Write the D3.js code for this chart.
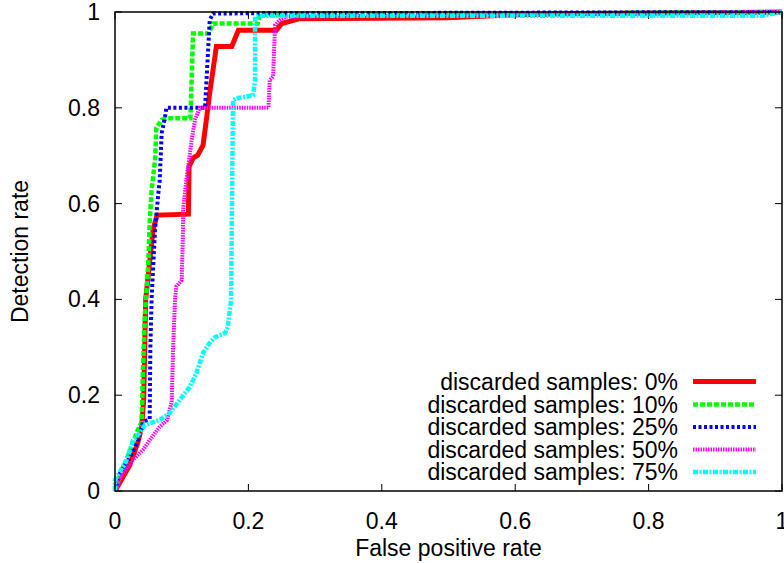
<!DOCTYPE html>
<html>
<head>
<meta charset="utf-8">
<title>ROC</title>
<script src="https://d3js.org/d3.v7.min.js"></script>
<style>
body { margin: 0; background: #fff; }
svg text { font-family: "Liberation Sans", Arial, Helvetica, sans-serif; font-size: 23px; fill: #000; }
</style>
</head>
<body>
<div id="chart"></div>
<script>
// tick labels
var xTicks = [0, 0.2, 0.4, 0.6, 0.8, 1];
var yTicks = [0, 0.2, 0.4, 0.6, 0.8, 1];

var seriesNames = ["discarded samples: 0%", "discarded samples: 10%", "discarded samples: 25%",
                   "discarded samples: 50%", "discarded samples: 75%"];

// [false positive rate, detection rate]
var roc0 = [[0,0],[0.022,0.054],[0.034,0.10],[0.040,0.134],[0.043,0.19],[0.046,0.40],[0.057,0.545],
  [0.063,0.576],[0.110,0.578],[0.111,0.677],[0.117,0.695],[0.124,0.701],[0.132,0.722],[0.137,0.775],
  [0.142,0.831],[0.152,0.928],[0.175,0.928],[0.185,0.962],[0.242,0.962],[0.250,0.976],[0.277,0.986],
  [0.5,0.988],[0.6,0.994],[0.7,0.997],[1,1]];
var roc10 = [[0,0],[0.0075,0.033],[0.017,0.065],[0.027,0.10],[0.032,0.12],[0.040,0.145],[0.042,0.258],
  [0.045,0.372],[0.050,0.476],[0.052,0.56],[0.055,0.63],[0.060,0.69],[0.062,0.758],[0.070,0.775],
  [0.078,0.778],[0.113,0.778],[0.115,0.862],[0.117,0.955],[0.140,0.955],[0.147,0.976],[0.214,0.976],
  [0.217,0.994],[0.5,0.996],[1,1]];
var roc25 = [[0,0],[0.0075,0.037],[0.022,0.07],[0.035,0.106],[0.042,0.144],[0.052,0.15],[0.053,0.30],
  [0.055,0.405],[0.060,0.545],[0.065,0.622],[0.067,0.649],[0.070,0.747],[0.075,0.781],[0.077,0.80],
  [0.135,0.80],[0.142,0.983],[0.147,0.997],[1,1]];
var roc50 = [[0,0],[0.0025,0.009],[0.012,0.038],[0.027,0.065],[0.042,0.086],[0.052,0.106],[0.067,0.134],
  [0.078,0.148],[0.085,0.186],[0.087,0.294],[0.090,0.40],[0.092,0.427],[0.100,0.44],[0.102,0.545],
  [0.102,0.587],[0.107,0.649],[0.115,0.733],[0.120,0.775],[0.127,0.80],[0.230,0.80],[0.232,0.858],
  [0.237,0.865],[0.240,0.973],[0.247,0.983],[0.257,0.99],[0.6,0.995],[1,1]];
var roc75 = [[0,0],[0,0.023],[0.0175,0.065],[0.027,0.106],[0.037,0.121],[0.045,0.138],[0.067,0.148],
  [0.082,0.163],[0.097,0.19],[0.112,0.217],[0.122,0.246],[0.132,0.288],[0.142,0.309],[0.150,0.321],
  [0.165,0.330],[0.169,0.342],[0.174,0.399],[0.175,0.545],[0.177,0.816],[0.182,0.82],[0.197,0.823],
  [0.207,0.827],[0.210,0.858],[0.210,0.990],[0.22,0.992],[0.97,0.992],[1,1]];

var allSeries = [roc0, roc10, roc25, roc50, roc75];
var colors = ["#ff0000", "#00ff00", "#0000ff", "#ff00ff", "#00ffff"];
var widths = [5, 4.5, 4, 4, 4.5];
var dashes = [null, "5,2", "3,2.5", "1.5,1", "5,1.5,2,1.5"];

var W = 784, H = 563;
var svg = d3.select("#chart").append("svg").attr("width", W).attr("height", H);

var x = d3.scaleLinear().domain([0, 1]).range([115, 782]);
var y = d3.scaleLinear().domain([0, 1]).range([491, 12]);

// ticks, mirrored on all sides, pointing inward
var tickLen = 7;
var tg = svg.append("g").attr("stroke", "#000").attr("stroke-width", 1);
xTicks.forEach(function(t) {
	tg.append("line").attr("x1", x(t)).attr("x2", x(t)).attr("y1", y(0)).attr("y2", y(0) - tickLen);
	tg.append("line").attr("x1", x(t)).attr("x2", x(t)).attr("y1", y(1)).attr("y2", y(1) + tickLen);
});
yTicks.forEach(function(t) {
	tg.append("line").attr("x1", x(0)).attr("x2", x(0) + tickLen).attr("y1", y(t)).attr("y2", y(t));
	tg.append("line").attr("x1", x(1)).attr("x2", x(1) - tickLen).attr("y1", y(t)).attr("y2", y(t));
});

svg.append("g").selectAll("text").data(xTicks).enter().append("text")
	.attr("x", function(d) { return x(d); })
	.attr("y", 529)
	.attr("text-anchor", "middle")
	.text(function(d) { return d3.format("")(d); });

svg.append("g").selectAll("text").data(yTicks).enter().append("text")
	.attr("x", 100)
	.attr("y", function(d) { return y(d) + 8; })
	.attr("text-anchor", "end")
	.text(function(d) { return d3.format("")(d); });

svg.append("text").attr("x", (x(0) + x(1)) / 2).attr("y", 556)
	.attr("text-anchor", "middle").text("False positive rate");
svg.append("text").attr("transform", "translate(28," + ((y(0) + y(1)) / 2) + ") rotate(-90)")
	.attr("text-anchor", "middle").text("Detection rate");

// legend
var legY = [381.5, 404.5, 427, 449.5, 472];
var lg = svg.append("g");
seriesNames.forEach(function(name, i) {
	lg.append("text").attr("x", 678).attr("y", legY[i] + 8).attr("text-anchor", "end").text(name);
	lg.append("line").attr("x1", 693).attr("x2", 756).attr("y1", legY[i]).attr("y2", legY[i])
		.attr("stroke", colors[i]).attr("stroke-width", widths[i])
		.attr("stroke-dasharray", dashes[i]);
});

// curves
var line = d3.line().x(function(d) { return x(d[0]); }).y(function(d) { return y(d[1]); });
svg.append("g").selectAll("path").data(allSeries).enter().append("path")
	.attr("d", line)
	.attr("fill", "none")
	.attr("stroke", function(d, i) { return colors[i]; })
	.attr("stroke-width", function(d, i) { return widths[i]; })
	.attr("stroke-dasharray", function(d, i) { return dashes[i]; })
	.attr("stroke-linejoin", "miter");

// border
svg.append("rect").attr("x", x(0)).attr("y", y(1)).attr("width", x(1) - x(0)).attr("height", y(0) - y(1))
	.attr("fill", "none").attr("stroke", "#000").attr("stroke-width", 1.5);
</script>
</body>
</html>
